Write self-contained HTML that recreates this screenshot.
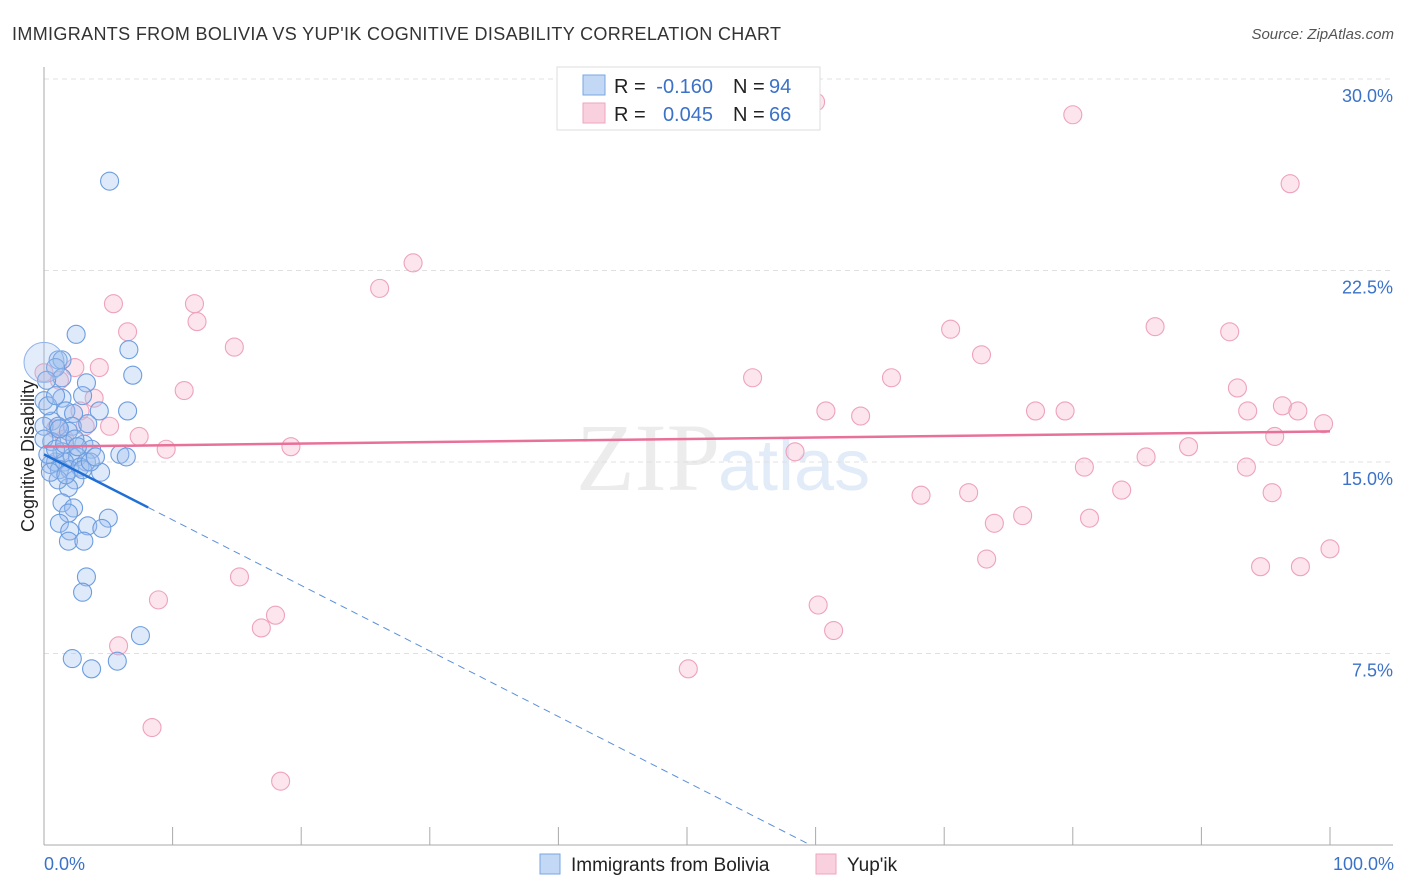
<!DOCTYPE html>
<html><head><meta charset="utf-8"><style>
body{margin:0;background:#fff;font-family:"Liberation Sans",sans-serif;}
#c{position:relative;width:1406px;height:892px;overflow:hidden}
</style></head><body>
<div id="c">
<svg id="s" width="1406" height="892" xmlns="http://www.w3.org/2000/svg">
<text x="12" y="40" font-size="18" fill="#333" textLength="769" lengthAdjust="spacing">IMMIGRANTS FROM BOLIVIA VS YUP'IK COGNITIVE DISABILITY CORRELATION CHART</text>
<text x="1394" y="39" font-size="15" fill="#555" font-style="italic" text-anchor="end">Source: ZipAtlas.com</text>
<text x="720" y="490" font-size="96" fill="#ececec" font-family="Liberation Serif,serif" text-anchor="end">ZIP</text>
<text x="718" y="490" font-size="72" fill="#e2ecf8">atlas</text>
<g id="grid"></g><g id="axes"></g><g id="pts"></g><g id="trend"></g>
<text transform="translate(34,456) rotate(-90)" font-size="18" fill="#222" text-anchor="middle">Cognitive Disability</text>
<text x="44" y="870" font-size="18" fill="#3b72c8">0.0%</text>
<text x="1394" y="870" font-size="18" fill="#3b72c8" text-anchor="end">100.0%</text>
<g>
<rect x="557" y="67" width="263" height="63" fill="#fff" stroke="#ddd"/>
<rect x="583" y="75" width="22" height="20" fill="#c3d8f4" stroke="#7aa5e3"/>
<rect x="583" y="103" width="22" height="20" fill="#f9d0dd" stroke="#eea6be"/>
<text x="614" y="93" font-size="20" fill="#222">R =</text>
<text x="713" y="93" font-size="20" fill="#3b72c8" text-anchor="end">-0.160</text>
<text x="733" y="93" font-size="20" fill="#222">N =</text>
<text x="769" y="93" font-size="20" fill="#3b72c8">94</text>
<text x="614" y="121" font-size="20" fill="#222">R =</text>
<text x="713" y="121" font-size="20" fill="#3b72c8" text-anchor="end">0.045</text>
<text x="733" y="121" font-size="20" fill="#222">N =</text>
<text x="769" y="121" font-size="20" fill="#3b72c8">66</text>
</g>
<g>
<rect x="540" y="854" width="20" height="20" fill="#c3d8f4" stroke="#7aa5e3"/>
<text x="571" y="871" font-size="19" fill="#222">Immigrants from Bolivia</text>
<rect x="816" y="854" width="20" height="20" fill="#f9d0dd" stroke="#eea6be"/>
<text x="847" y="871" font-size="19" fill="#222">Yup'ik</text>
</g>
</svg></div>
<script>
const yTicks=[7.5,15,22.5,30];
const yTickLabels=["7.5%","15.0%","22.5%","30.0%"];
const xTicks=[0,10,20,30,40,50,60,70,80,90,100];
const blueX=[5.1,2.5,6.6,1.1,1.4,0.9,1.4,6.9,3.3,3.0,1.4,0,4.3,6.5,1.7,2.3,0.6,2.2,3.4,0,1.1,1.9,0.6,3.1,3.7,1.4,5.9,6.4,2.2,2.6,3.3,0.5,0.9,1.6,1.2,2.0,2.8,4.4,2.4,1.9,1.4,2.3,1.9,5.0,3.4,1.2,2.0,4.5,1.9,3.1,3.3,3.0,7.5,2.2,5.7,3.7,0,0.3,0.9,1.6,2.4,3.0,3.6,1.1,0.5,1.7,0.3,0.9,0.2,1.2,2.6,4.0];
const blueY=[26.0,20.0,19.4,19.0,19.0,18.7,18.3,18.4,18.1,17.6,17.5,17.4,17.0,17.0,17.0,16.9,16.6,16.4,16.5,16.4,16.4,16.2,15.8,15.7,15.5,15.4,15.3,15.2,15.2,15.2,15.0,14.9,15.0,15.0,14.7,14.7,14.8,14.6,14.3,14.0,13.4,13.2,13.0,12.8,12.5,12.6,12.3,12.4,11.9,11.9,10.5,9.9,8.2,7.3,7.2,6.9,15.9,15.3,15.5,15.7,15.9,14.7,15.0,14.3,14.6,14.5,17.2,17.6,18.2,16.3,15.6,15.2];
const pinkX=[60.0,80.0,96.9,28.7,26.1,5.4,11.7,11.9,6.5,70.5,86.4,92.2,14.8,72.9,4.3,0,55.1,65.9,10.9,92.8,3.9,2.8,60.8,63.5,77.1,79.4,93.6,96.3,97.5,99.5,5.1,7.4,95.7,19.2,9.5,58.4,89.0,85.7,80.9,93.5,68.2,71.9,83.8,95.5,73.9,76.1,81.3,73.3,100,94.6,97.7,15.2,8.9,60.2,18.0,16.9,61.4,5.8,50.1,8.4,18.4,2.4,1.2,0.9,3.2,1.6];
const pinkY=[29.1,28.6,25.9,22.8,21.8,21.2,21.2,20.5,20.1,20.2,20.3,20.1,19.5,19.2,18.7,18.5,18.3,18.3,17.8,17.9,17.5,17.0,17.0,16.8,17.0,17.0,17.0,17.2,17.0,16.5,16.4,16.0,16.0,15.6,15.5,15.4,15.6,15.2,14.8,14.8,13.7,13.8,13.9,13.8,12.6,12.9,12.8,11.2,11.6,10.9,10.9,10.5,9.6,9.4,9.0,8.5,8.4,7.8,6.9,4.6,2.5,18.7,18.2,16.3,16.4,15.9];
const blueTrend=[15.3,-0.160,8.1,59.6];
const pinkTrend=[15.6,16.2];
const X=v=>44+v*12.86, Y=v=>845-v*25.533;
const NS='http://www.w3.org/2000/svg';
function mk(p,t,a){const e=document.createElementNS(NS,t);for(const k in a)e.setAttribute(k,a[k]);document.getElementById(p).appendChild(e);return e;}
yTicks.forEach((t,i)=>{
 const g=mk('grid','line',{x1:44,x2:1393,y1:Y(t),y2:Y(t),stroke:'#e0e0e0','stroke-dasharray':'5,4'});
 
 
 const l=mk('grid','text',{x:1393,y:Y(t)+23,'font-size':18,fill:'#3b72c8','text-anchor':'end'});
 l.textContent=yTickLabels[i];
 
 
});
const ya=mk('axes','line',{x1:44,x2:44,y1:67,y2:845,stroke:'#aaa'});


const xa=mk('axes','line',{x1:44,x2:1393,y1:845,y2:845,stroke:'#aaa'});


xTicks.forEach(t=>{const k=mk('axes','line',{x1:X(t),x2:X(t),y1:827,y2:845,stroke:'#aaa'});
 
 });
pinkX.forEach((v,i)=>{const c=mk('pts','circle',{cx:X(v),cy:Y(pinkY[i]),r:9,fill:'rgba(246,180,202,0.35)',stroke:'#eea2bc','stroke-width':1.1});
 
 });
blueX.forEach((v,i)=>{const c=mk('pts','circle',{cx:X(v),cy:Y(blueY[i]),r:9,fill:'rgba(160,192,238,0.35)',stroke:'#6c9de0','stroke-width':1.1});
 
 });
const big=mk('pts','circle',{cx:X(0),cy:Y(18.9),r:20,fill:'rgba(160,192,238,0.3)',stroke:'#8fb3e8','stroke-width':1});


const bs=blueTrend[0]/blueTrend[3];
const b1=mk('trend','line',{x1:X(0),y1:Y(blueTrend[0]),x2:X(blueTrend[2]),y2:Y(blueTrend[0]-bs*blueTrend[2]),stroke:'#1f6fd6','stroke-width':2.5});


const b2=mk('trend','line',{x1:X(blueTrend[2]),y1:Y(blueTrend[0]-bs*blueTrend[2]),x2:X(blueTrend[3]),y2:Y(0),stroke:'#5b8fd9','stroke-width':1,'stroke-dasharray':'7,5'});


const p1=mk('trend','line',{x1:X(0),y1:Y(pinkTrend[0]),x2:X(100),y2:Y(pinkTrend[1]),stroke:'#e8719a','stroke-width':2.5});


</script>
</body></html>
